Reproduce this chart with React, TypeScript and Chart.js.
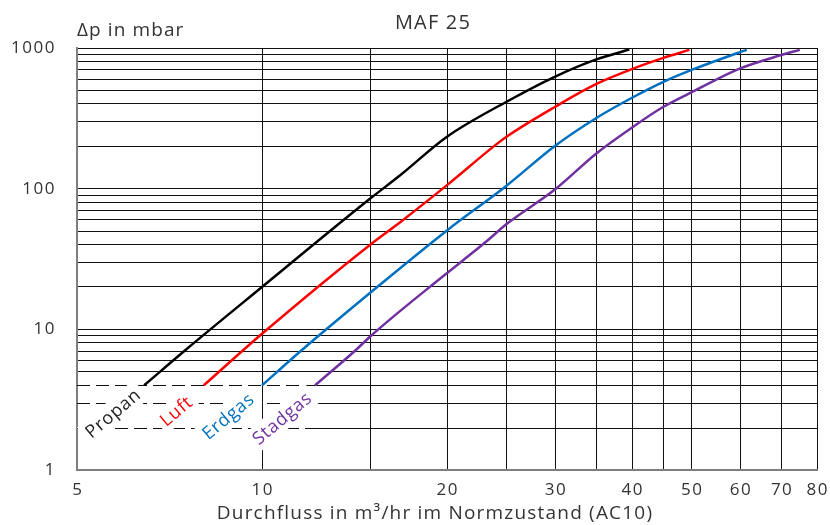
import React, { useEffect, useRef } from "react";
import { Chart, registerables } from "chart.js";

Chart.register(...registerables);

const chartTitle = "MAF 25";
const yAxisTitle = "Δp in mbar";
const xAxisTitle = "Durchfluss in m³/hr im Normzustand (AC10)";

const xMin = 5;
const xMax = 80;
const yMin = 1;
const yMax = 1000;

const xGridValues = [5, 10, 15, 20, 25, 30, 35, 40, 45, 50, 60, 70, 80];
const xTickLabels = [5, 10, 20, 30, 40, 50, 60, 70, 80];
const yGridValues = [
  1, 2, 3, 4, 5, 6, 7, 8, 9, 10, 20, 30, 40, 50, 60, 70, 80, 90, 100, 200,
  300, 400, 500, 600, 700, 800, 900, 1000,
];
const yTickLabels = [1, 10, 100, 1000];
const dashedYValues = [2, 3, 4];
const dashEndX = 12.2;

const seriesNames = ["Propan", "Luft", "Erdgas", "Stadgas"];
const seriesColors = ["#000000", "#ff0000", "#0070c0", "#7030a0"];

const propanX = [6.43, 7.5, 10, 15, 16.8, 20, 25, 30, 35, 39.6];
const propanY = [4, 7.1, 20, 85, 125, 234, 415, 627, 830, 975];

const luftX = [8.04, 10, 15, 16.8, 20, 23.8, 25, 30, 35, 40, 45, 49.6];
const luftY = [4, 9.3, 40, 58, 106, 199, 234, 382, 555, 708, 850, 970];

const erdgasX = [10, 11.6, 15, 20, 25, 30, 35, 40, 45, 50.5, 60, 61.5];
const erdgasY = [4, 7.1, 18.2, 50.5, 105, 202, 318, 443, 575, 710, 935, 970];

const stadgasX = [12.2, 14.2, 15, 19.5, 21.25, 23.3, 25, 30, 35, 40, 45, 50.5, 60, 70, 75];
const stadgasY = [4, 7.1, 8.9, 23, 31, 43, 56, 99, 178, 272, 382, 495, 716, 891, 970];

// label anchor positions (data coordinates) for the curve names
const labelX = [5.72, 7.25, 8.81, 10.78];
const labelY = [2.54, 2.63, 2.42, 2.34];
const labelAngleDeg = -40;

const FONT = '"Open Sans", "DejaVu Sans", sans-serif';
const TEXT_COLOR = "#333333";

const seriesX = [propanX, luftX, erdgasX, stadgasX];
const seriesY = [propanY, luftY, erdgasY, stadgasY];

function setSpacing(ctx: any, px: number) {
  try {
    ctx.letterSpacing = `${px}px`;
  } catch (e) {
    /* ignore */
  }
}

const overlayPlugin = {
  id: "overlay",
  beforeDatasetsDraw(chart: any) {
    const { ctx, chartArea, scales } = chart;
    const x = scales.x;
    const y = scales.y;
    ctx.save();
    ctx.strokeStyle = "#111111";
    ctx.lineWidth = 1;
    const xs = x.getPixelForValue(dashEndX);
    for (const v of dashedYValues) {
      const py = Math.round(y.getPixelForValue(v)) + 0.5;
      ctx.setLineDash([13, 6]);
      ctx.beginPath();
      ctx.moveTo(chartArea.left, py);
      ctx.lineTo(xs, py);
      ctx.stroke();
      ctx.setLineDash([]);
      ctx.beginPath();
      ctx.moveTo(xs, py);
      ctx.lineTo(chartArea.right, py);
      ctx.stroke();
    }
    ctx.restore();
  },
  afterDatasetsDraw(chart: any) {
    const { ctx, scales } = chart;
    const x = scales.x;
    const y = scales.y;
    ctx.save();
    ctx.font = `18px ${FONT}`;
    setSpacing(ctx, 0.8);
    ctx.textAlign = "center";
    ctx.textBaseline = "middle";
    seriesNames.forEach((name, i) => {
      const px = x.getPixelForValue(labelX[i]);
      const py = y.getPixelForValue(labelY[i]);
      ctx.save();
      ctx.translate(px, py);
      ctx.rotate((labelAngleDeg * Math.PI) / 180);
      const w = ctx.measureText(name).width;
      ctx.fillStyle = "#ffffff";
      ctx.fillRect(-w / 2 - 4, -12, w + 8, 24);
      ctx.fillStyle = i === 0 ? "#222222" : seriesColors[i];
      ctx.fillText(name, 0, 1);
      ctx.restore();
    });
    ctx.restore();
  },
  afterDraw(chart: any) {
    const { ctx, chartArea, scales } = chart;
    const x = scales.x;
    const y = scales.y;
    ctx.save();
    ctx.fillStyle = TEXT_COLOR;
    ctx.font = `17px ${FONT}`;
    setSpacing(ctx, 1.5);
    ctx.textAlign = "right";
    ctx.textBaseline = "middle";
    for (const v of yTickLabels) {
      ctx.fillText(String(v), chartArea.left - 21, y.getPixelForValue(v));
    }
    ctx.textAlign = "center";
    for (const v of xTickLabels) {
      ctx.fillText(String(v), x.getPixelForValue(v) + 0.75, chartArea.bottom + 20);
    }
    ctx.textBaseline = "alphabetic";
    ctx.font = `20px ${FONT}`;
    setSpacing(ctx, 1.2);
    ctx.fillText(chartTitle, 433, 29);
    ctx.font = `19px ${FONT}`;
    setSpacing(ctx, 1.2);
    ctx.fillText(xAxisTitle, 435, 519);
    ctx.textAlign = "left";
    setSpacing(ctx, 1.1);
    ctx.fillText(yAxisTitle, chartArea.left, 36);
    ctx.restore();
  },
};

export default function App() {
  const canvasRef = useRef<HTMLCanvasElement | null>(null);

  useEffect(() => {
    const canvas = canvasRef.current;
    if (!canvas) return;
    const datasets = seriesNames.map((name, i) => ({
      label: name,
      data: seriesX[i].map((xv, j) => ({ x: xv, y: seriesY[i][j] })),
      borderColor: seriesColors[i],
      backgroundColor: seriesColors[i],
      borderWidth: 2.5,
      pointRadius: 0,
      fill: false,
      cubicInterpolationMode: "monotone" as const,
    }));

    const chart = new Chart(canvas, {
      type: "line",
      data: { datasets },
      options: {
        animation: false,
        responsive: true,
        maintainAspectRatio: false,
        layout: { padding: { left: 77, top: 48, right: 13, bottom: 55 } },
        plugins: {
          legend: { display: false },
          title: { display: false },
          tooltip: { enabled: false },
        },
        scales: {
          x: {
            type: "logarithmic",
            min: xMin,
            max: xMax,
            afterBuildTicks: (scale: any) => {
              scale.ticks = xGridValues.map((v) => ({ value: v }));
            },
            afterFit: (scale: any) => {
              scale.height = 0;
            },
            ticks: { display: false },
            grid: {
              drawTicks: false,
              color: (c: any) => (c.tick && c.tick.value === xMin ? "#7f7f7f" : "#111111"),
              lineWidth: 1,
            },
            border: { display: true, color: "#7f7f7f", width: 2 },
          },
          y: {
            type: "logarithmic",
            min: yMin,
            max: yMax,
            afterBuildTicks: (scale: any) => {
              scale.ticks = yGridValues.map((v) => ({ value: v }));
            },
            afterFit: (scale: any) => {
              scale.width = 0;
            },
            ticks: { display: false },
            grid: {
              drawTicks: false,
              color: (c: any) => {
                const v = c.tick ? c.tick.value : 0;
                if (dashedYValues.includes(v)) return "rgba(0,0,0,0)";
                if (v === yMin) return "#7f7f7f";
                return "#111111";
              },
              lineWidth: 1,
            },
            border: { display: true, color: "#7f7f7f", width: 2 },
          },
        },
      },
      plugins: [overlayPlugin],
    });
    return () => chart.destroy();
  }, []);

  return (
    <div
      style={{
        position: "fixed",
        left: 0,
        top: 0,
        width: 830,
        height: 525,
        background: "#ffffff",
      }}
    >
      <canvas ref={canvasRef} />
    </div>
  );
}
